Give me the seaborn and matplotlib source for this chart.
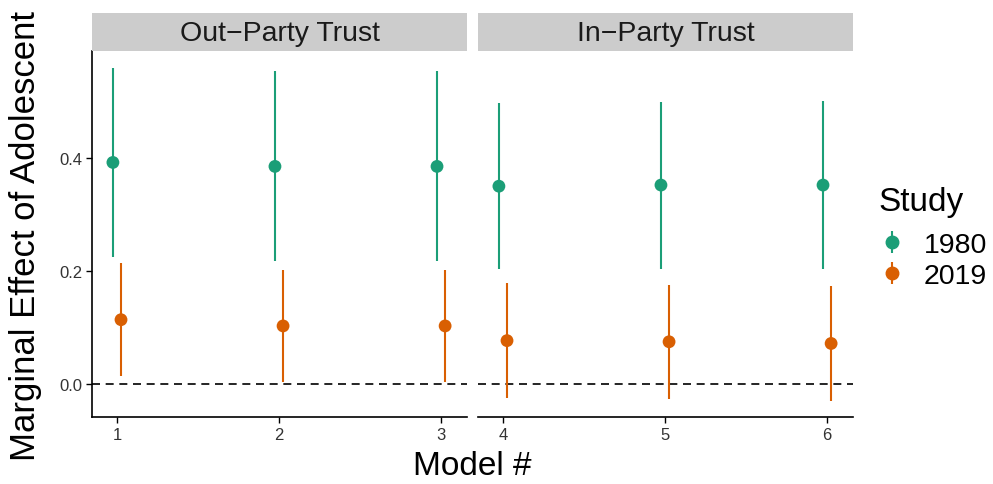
import matplotlib
matplotlib.use("Agg")
import matplotlib.pyplot as plt
from matplotlib.lines import Line2D
from matplotlib.legend_handler import HandlerTuple
import numpy as np
import pandas as pd
import seaborn as sns

# Marginal effect estimates with 95% intervals, per model and study
models = [1, 2, 3, 4, 5, 6]
outcome = ["Out\u2212Party Trust"] * 3 + ["In\u2212Party Trust"] * 3
est_1980 = [0.392, 0.385, 0.385, 0.350, 0.352, 0.352]
lo_1980 = [0.224, 0.217, 0.217, 0.203, 0.204, 0.204]
hi_1980 = [0.559, 0.553, 0.553, 0.497, 0.499, 0.500]
est_2019 = [0.114, 0.103, 0.103, 0.077, 0.075, 0.072]
lo_2019 = [0.014, 0.003, 0.003, -0.025, -0.027, -0.029]
hi_2019 = [0.214, 0.202, 0.202, 0.179, 0.176, 0.173]
studies = ["1980", "2019"]
panels = ["Out\u2212Party Trust", "In\u2212Party Trust"]
y_ticks = [0.0, 0.2, 0.4]

rows = []
for s, est, lo, hi in [("1980", est_1980, lo_1980, hi_1980),
                       ("2019", est_2019, lo_2019, hi_2019)]:
    for m, o, e, l, h in zip(models, outcome, est, lo, hi):
        rows.append(dict(model=m, outcome=o, study=s, est=e, lo=l, hi=h))
df = pd.DataFrame(rows)

sns.set_style("white")
plt.rcParams["font.family"] = ["Liberation Sans", "DejaVu Sans"]
plt.rcParams["text.color"] = "black"

palette = {"1980": "#1B9E77", "2019": "#D95F02"}
dodge = {"1980": -0.025, "2019": 0.025}
df["xpos"] = df["model"] + df["study"].map(dodge)

fig = plt.figure(figsize=(9.93, 4.85), dpi=100)
W, H = 993, 485
ax_bottom = 1 - 418 / H
ax_height = (418 - 52) / H
ax_width = 375 / W
lefts = [92 / W, 478 / W]

axes = []
for i, (panel, left) in enumerate(zip(panels, lefts)):
    ax = fig.add_axes([left, ax_bottom, ax_width, ax_height])
    axes.append(ax)
    sub = df[df["outcome"] == panel]
    ax.axhline(0, color="black", linestyle=(0, (4.8, 3.4)), linewidth=1.2, zorder=1)
    for s in studies:
        d = sub[sub["study"] == s]
        ax.vlines(d["xpos"], d["lo"], d["hi"], color=palette[s], linewidth=1.5, zorder=2)
    sns.scatterplot(data=sub, x="xpos", y="est", hue="study", palette=palette,
                    s=85, edgecolor="none", legend=False, ax=ax, zorder=3)
    ms = sorted(sub["model"].unique())
    ax.set_xlim(ms[0] - 0.154, ms[-1] + 0.16)
    ax.set_ylim(-0.058, 0.589)
    ax.set_xticks(ms)
    ax.set_xticklabels([str(m) for m in ms])
    ax.set_xlabel("")
    ax.set_ylabel("")
    for side in ["top", "right"]:
        ax.spines[side].set_visible(False)
    ax.spines["bottom"].set_linewidth(1.2)
    ax.spines["left"].set_linewidth(1.2)
    ax.spines["bottom"].set_color("black")
    ax.spines["left"].set_color("black")
    ax.tick_params(axis="both", which="both", length=4, width=1.0, color="black",
                   labelsize=12, labelcolor="#333333", pad=3, direction="out",
                   bottom=True, left=True)
    if i == 0:
        ax.set_yticks(y_ticks)
        ax.set_yticklabels([f"{v:.1f}" for v in y_ticks])
    else:
        ax.set_yticks([])
        ax.spines["left"].set_visible(False)

    # facet strip
    sax = fig.add_axes([left, 1 - 52 / H, ax_width, 38 / H])
    sax.set_facecolor("#CCCCCC")
    for sp in sax.spines.values():
        sp.set_visible(False)
    sax.set_xticks([])
    sax.set_yticks([])
    sax.text(0.5, 0.48, panel, ha="center", va="center", fontsize=20.5,
             color="#1A1A1A", transform=sax.transAxes)

fig.text(26 / W, 1 - 236 / H, "Marginal Effect of Adolescent", rotation=90,
         ha="center", va="center", fontsize=25)
fig.text(472 / W, 1 - 467 / H, "Model #", ha="center", va="center", fontsize=24)

# legend: title as its own text, keys as point + vertical range glyphs
fig.text(878 / W, 1 - 211 / H, "Study", ha="left", va="baseline", fontsize=24)
handles = []
for s in studies:
    bar = Line2D([], [], color=palette[s], marker="|", markersize=16,
                 markeredgewidth=1.5, linestyle="none")
    dot = Line2D([], [], color=palette[s], marker="o", markersize=9,
                 linestyle="none")
    handles.append((bar, dot))
leg = fig.legend(handles, studies, loc="upper left",
                 bbox_to_anchor=(878 / W, 1 - 233 / H), frameon=False,
                 fontsize=20.5, handlelength=1.0,
                 handletextpad=0.6, labelspacing=0.18, borderpad=0,
                 borderaxespad=0,
                 handler_map={tuple: HandlerTuple(ndivide=1, pad=0)})
for t in leg.get_texts():
    t.set_color("black")

fig.savefig("out.png", dpi=100)
